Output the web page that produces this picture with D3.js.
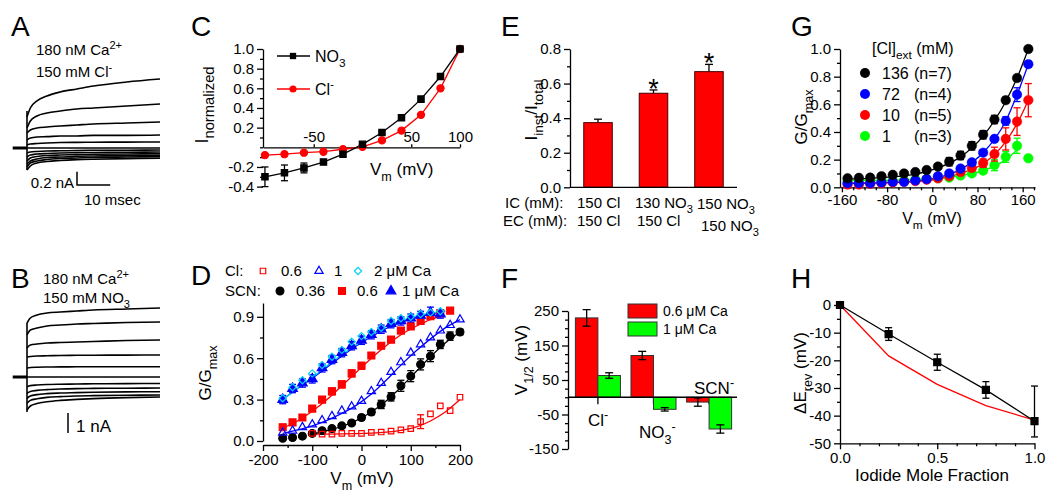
<!DOCTYPE html>
<html><head><meta charset="utf-8">
<script src="https://cdn.jsdelivr.net/npm/d3@7"></script>
<style>
html,body{margin:0;padding:0;background:#fff;}
svg text{font-family:"Liberation Sans",Arial,Helvetica,sans-serif;fill:#000;}
</style></head><body>
<svg id="c" width="1048" height="492"></svg>
<script>
// ================= DATA =================
// Panel A / B : current traces (nA) sampled at these times (ms)
const tA = [0,1,3,6,10,15,20,30,40];
const tracesA = [
 [0.465,0.60,0.705,0.78,0.84,0.885,0.93,0.99,1.035],
 [0.30,0.405,0.48,0.525,0.555,0.585,0.60,0.63,0.66],
 [0.225,0.27,0.30,0.315,0.33,0.345,0.36,0.375,0.39],
 [0.12,0.15,0.165,0.17,0.18,0.18,0.19,0.19,0.195],
 [0.045,0.06,0.067,0.075,0.082,0.085,0.087,0.088,0.09],
 [0,0,0,0,0,0,0,0,0],
 [-0.075,-0.06,-0.052,-0.045,-0.042,-0.037,-0.034,-0.033,-0.03],
 [-0.135,-0.105,-0.09,-0.082,-0.075,-0.07,-0.067,-0.064,-0.06],
 [-0.195,-0.15,-0.127,-0.112,-0.105,-0.1,-0.094,-0.09,-0.087],
 [-0.24,-0.195,-0.165,-0.142,-0.135,-0.124,-0.12,-0.114,-0.11],
 [-0.285,-0.225,-0.195,-0.172,-0.157,-0.15,-0.142,-0.135,-0.13],
 [-0.33,-0.27,-0.225,-0.202,-0.187,-0.175,-0.168,-0.16,-0.154]
];
const tracesB = [
 [2.7,2.95,3.1,3.2,3.25,3.3,3.35,3.4,3.45],
 [2.1,2.35,2.45,2.55,2.6,2.65,2.675,2.725,2.75],
 [1.45,1.6,1.65,1.7,1.725,1.75,1.775,1.825,1.85],
 [1.0,1.025,1.05,1.06,1.075,1.085,1.09,1.095,1.1],
 [0.45,0.475,0.49,0.5,0.505,0.51,0.515,0.515,0.515],
 [0,0,0,0,0,0,0,0,0],
 [-0.485,-0.43,-0.40,-0.375,-0.36,-0.35,-0.34,-0.33,-0.325],
 [-0.815,-0.72,-0.67,-0.63,-0.60,-0.58,-0.57,-0.56,-0.55],
 [-1.065,-0.95,-0.88,-0.83,-0.80,-0.78,-0.76,-0.745,-0.735],
 [-1.315,-1.17,-1.09,-1.02,-0.98,-0.95,-0.93,-0.91,-0.90],
 [-1.65,-1.45,-1.33,-1.24,-1.17,-1.12,-1.08,-1.03,-1.00]
];

// Panel C
const cV = [-100,-80,-60,-40,-20,0,20,40,60,80,100];
const cNO3 = [-0.30,-0.26,-0.21,-0.15,-0.07,0.03,0.15,0.30,0.49,0.72,1.0];
const cNO3Err = [0.10,0.08,0.05,0.02,0,0,0,0,0,0,0];
const cCl = [-0.08,-0.07,-0.055,-0.045,-0.02,0.005,0.07,0.17,0.33,0.60,1.0];
const cYTicks = [-0.4,-0.2,0.2,0.4,0.6,0.8,1.0];
const cXTicks = [-50,50,100];

// Panel D
const dV = [-160,-140,-120,-100,-80,-60,-40,-20,0,20,40,60,80,100,120,140,160,180,200];
const dCl06 = [null,null,null,0.055,0.05,0.05,0.055,0.055,0.055,0.063,0.065,0.072,0.08,0.09,0.14,0.196,0.254,0.22,0.317];
const dCl06Err = [0,0,0,0,0,0,0,0,0,0,0,0,0,0,0.05,0,0,0,0];
const dCl1 = [0.06,0.075,0.10,0.12,0.15,0.18,0.22,0.25,0.29,0.36,0.42,0.50,0.57,0.64,0.70,0.75,0.80,0.84,0.88];
const dCl2 = [0.31,0.39,0.44,0.49,0.55,0.61,0.66,0.72,0.76,0.79,0.82,0.87,0.89,0.90,0.92,0.93,0.94,null,null];
const dSCN036 = [0.02,0.025,0.035,0.055,0.075,0.09,0.11,0.13,0.17,0.21,0.265,0.32,0.40,0.47,0.555,0.615,0.70,0.76,0.79];
const dSCN036Err = [0.01,0.01,0.01,0.01,0.01,0.01,0.015,0.015,0.02,0.02,0.03,0.03,0.04,0.04,0.04,0.04,0.03,0.03,0.02];
const dSCN06 = [0.10,0.135,0.17,0.235,0.30,0.36,0.41,0.49,0.545,0.62,0.69,0.735,0.80,0.83,0.87,0.905,0.925,0.945,null];
const dSCN06Err = [0.02,0.02,0.02,0.02,0.02,0.025,0.025,0.025,0.025,0.02,0.02,0.02,0.02,0.02,0.02,0.02,0.015,0.015,0];
const dSCN1 = [0.30,0.38,0.42,0.45,0.53,0.59,0.64,0.69,0.73,0.77,0.81,0.85,0.87,0.89,0.91,0.93,0.92,null,null];
const dSCN1Err = [0.03,0.03,0.03,0.03,0.03,0.03,0.03,0.03,0.03,0.03,0.03,0.03,0.03,0.03,0.03,0.04,0.03,0,0];
const dFitV = [-160,-130,-100,-70,-40,-10,20,50,80,110,140,170,200];
const dFitCl06 = [null,null,0.05,0.05,0.051,0.053,0.057,0.064,0.077,0.10,0.145,0.21,0.30];
const dFitCl1 = [0.055,0.08,0.11,0.15,0.20,0.26,0.34,0.44,0.55,0.65,0.74,0.82,0.88];
const dFitCl2 = [0.30,0.38,0.46,0.545,0.625,0.70,0.77,0.83,0.87,0.905,0.925,0.945,null];
const dFitSCN036 = [null,null,0.05,0.075,0.105,0.15,0.21,0.29,0.39,0.50,0.61,0.71,0.79];
const dFitSCN06 = [0.095,0.145,0.215,0.30,0.40,0.50,0.60,0.69,0.77,0.83,0.88,0.91,null];
const dFitSCN1 = [0.30,0.38,0.455,0.535,0.615,0.69,0.755,0.815,0.86,0.895,0.92,0.94,null];

// Panel E
const eCats = ["a","b","c"];
const eIC = [["150 Cl"],["130 NO","3"],["150  NO","3"]];
const eEC = [["150  Cl"],["150 Cl"],["150 NO","3"]];
const eVals = [0.374,0.544,0.669];
const eErr = [0.02,0.019,0.042];
const eSig = [false,true,true];

// Panel F
const fGroups = ["Cl","NO3","SCN"];
const f06 = [230,121,-14];
const f06Err = [24,12,12];
const f1 = [63,-35,-92];
const f1Err = [8,5,12];

// Panel G
const gV = [-150,-130,-110,-90,-70,-50,-30,-10,10,30,50,70,90,110,130,150,170];
const g136 = [0.065,0.068,0.07,0.08,0.09,0.10,0.11,0.125,0.15,0.185,0.23,0.30,0.38,0.49,0.63,0.79,1.0];
const g136Err = [0.01,0.01,0.01,0.01,0.01,0.01,0.015,0.02,0.02,0.03,0.03,0.03,0.03,0.03,0.02,0.02,0];
const g72 = [0.03,0.03,0.03,0.035,0.04,0.04,0.05,0.06,0.08,0.10,0.135,0.18,0.25,0.35,0.48,0.67,0.89];
const g72Err = [0,0,0,0,0,0,0,0,0,0.01,0.01,0.01,0.01,0.02,0.03,0.05,0.02];
const g10 = [0.02,0.02,0.025,0.03,0.035,0.04,0.045,0.055,0.065,0.08,0.11,0.14,0.175,0.24,0.35,0.475,0.63];
const g10Err = [0,0,0,0,0,0,0,0,0,0.01,0.02,0.02,0.03,0.05,0.08,0.10,0.12];
const g1 = [0.045,0.045,0.045,0.045,0.048,0.05,0.055,0.06,0.065,0.07,0.085,0.10,0.12,0.16,0.22,0.30,0.21];
const g1Err = [0,0,0,0,0,0,0,0,0,0,0.01,0.01,0.02,0.04,0.04,0.055,0];
const gFitV = [-150,-110,-70,-30,10,50,90,130,150,170];
const gFit136 = [0.06,0.065,0.075,0.095,0.14,0.22,0.37,0.62,0.79,1.0];
const gFit72 = [0.028,0.03,0.035,0.045,0.07,0.13,0.25,0.48,0.67,0.89];
const gFit10 = [0.03,0.032,0.035,0.042,0.06,0.10,0.17,0.33,0.46,0.63];
const gFit1 = [0.05,0.05,0.052,0.056,0.065,0.085,0.12,0.20,0.27,null];
const gLegend = [["136","(n=7)"],["72","(n=4)"],["10","(n=5)"],["1","(n=3)"]];

// Panel H
const hX = [0,0.25,0.5,0.75,1.0];
const hY = [0,-10.5,-20.7,-30.7,-42];
const hErrUp = [0,2.3,2.9,3.0,12.7];
const hErrDn = [0,2.3,2.9,3.0,5.7];
const hTheory = [0,-18.4,-28.7,-36.4,-41.6];

// ================= HELPERS =================
const svg = d3.select("#c");
const FS = 15;
const RED="#ff0000", BLUE="#0000ff", CYAN="#00d4f0", GREEN="#00ff00", BLACK="#000";

function rich(g, x, y, parts, o={}) {
  const fs = o.fs || FS;
  const sr = o.subRatio || 0.74;
  const t = g.append("text").attr("x",x).attr("y",y).attr("font-size",fs)
    .attr("text-anchor",o.anchor||"start");
  if (o.rotate) t.attr("transform",`rotate(-90,${x},${y})`);
  let cur = 0;
  parts.forEach(p=>{
    const s = typeof p === "string" ? {t:p} : p;
    const off = s.sub ? fs*0.33 : s.sup ? -fs*0.42 : 0;
    const ts = t.append("tspan").attr("dy",off-cur).text(s.t);
    if (s.sub||s.sup) ts.attr("font-size",fs*sr);
    cur = off;
  });
  return t;
}
function styleAxis(a){
  a.attr("font-family",null).attr("font-size",null);
  a.selectAll("path,line").attr("stroke","#000").attr("stroke-width",1.3);
  a.selectAll("text").attr("font-size",FS);
}
function leftAxis(g,scale,x,major,minor,fmt){
  const a=g.append("g").attr("transform",`translate(${x},0)`);
  a.call(d3.axisLeft(scale).tickValues(major).tickSize(6).tickSizeOuter(0).tickFormat(fmt).tickPadding(3));
  if(minor){const m=a.append("g").call(d3.axisLeft(scale).tickValues(minor).tickSize(3).tickSizeOuter(0).tickFormat(""));m.select(".domain").remove();}
  styleAxis(a);return a;
}
function bottomAxis(g,scale,y,major,minor,fmt,tsz=6,pad=3){
  const a=g.append("g").attr("transform",`translate(0,${y})`);
  a.call(d3.axisBottom(scale).tickValues(major).tickSize(tsz).tickSizeOuter(0).tickFormat(fmt).tickPadding(pad));
  if(minor){const m=a.append("g").call(d3.axisBottom(scale).tickValues(minor).tickSize(3).tickSizeOuter(0).tickFormat(""));m.select(".domain").remove();}
  styleAxis(a);return a;
}
const f1d = d=>d.toFixed(1);
const fint = d=>String(d);
function errBars(g,xs,ys,errs,xS,yS,color,cap,up=true,dn=true,errsDn){
  xs.forEach((x,i)=>{
    const v=ys[i], e=errs[i], ed = errsDn?errsDn[i]:e;
    if(v==null||(!e&&!ed)) return;
    const X=xS(x), y1=yS(v+(up?e:0)), y2=yS(v-(dn?ed:0));
    g.append("line").attr("x1",X).attr("x2",X).attr("y1",y1).attr("y2",y2).attr("stroke",color).attr("stroke-width",1.3);
    if(up) g.append("line").attr("x1",X-cap).attr("x2",X+cap).attr("y1",y1).attr("y2",y1).attr("stroke",color).attr("stroke-width",1.3);
    if(dn) g.append("line").attr("x1",X-cap).attr("x2",X+cap).attr("y1",y2).attr("y2",y2).attr("stroke",color).attr("stroke-width",1.3);
  });
}
function markers(g,xs,ys,xS,yS,type,size,fill,stroke,rot=0,sw=1.2){
  const sym=d3.symbol().type(type).size(size);
  xs.forEach((x,i)=>{ if(ys[i]==null) return;
    g.append("path").attr("d",sym()).attr("transform",`translate(${xS(x)},${yS(ys[i])}) rotate(${rot})`)
     .attr("fill",fill).attr("stroke",stroke).attr("stroke-width",sw);});
}
function fitLine(g,xs,ys,xS,yS,color,curve=d3.curveMonotoneX){
  const ln=d3.line().defined(d=>d!=null).x((d,i)=>xS(xs[i])).y(d=>yS(d)).curve(curve);
  g.append("path").attr("d",ln(ys)).attr("fill","none").attr("stroke",color).attr("stroke-width",1.3);
}
function letter(t,x,y){ svg.append("text").attr("x",x).attr("y",y).attr("font-size",28).text(t); }

// ================= PANEL A =================
(function(){
  const g=svg.append("g");
  const x=d3.scaleLinear().domain([0,40]).range([27,160]);
  const y=d3.scaleLinear().domain([0,1]).range([148,81.3]);
  const ln=d3.line().x((d,i)=>x(tA[i])).y(d=>y(d)).curve(d3.curveMonotoneX);
  tracesA.forEach(tr=>g.append("path").attr("d",ln(tr)).attr("fill","none").attr("stroke","#000").attr("stroke-width",1.6));
  const starts=tracesA.map(t=>t[0]);
  g.append("line").attr("x1",x(0)).attr("x2",x(0)).attr("y1",y(d3.max(starts))-6).attr("y2",y(d3.min(starts))).attr("stroke","#000").attr("stroke-width",1.6);
  g.append("line").attr("x1",x(-4.3)).attr("x2",x(0)).attr("y1",y(0)).attr("y2",y(0)).attr("stroke","#000").attr("stroke-width",3);
  const bx=77, by=185;
  g.append("path").attr("d",`M${bx},${by-(y(0)-y(0.2))}V${by}H${bx+(x(10)-x(0))}`).attr("fill","none").attr("stroke","#000").attr("stroke-width",1.5);
  rich(g,74,188,["0.2 nA"]).attr("text-anchor","end");
  rich(g,84,205,["10 msec"]);
  rich(g,36,55,["180 nM Ca",{t:"2+",sup:true}]);
  rich(g,36,77,["150 mM Cl",{t:"-",sup:true}]);
  letter("A",11,36);
})();

// ================= PANEL B =================
(function(){
  const g=svg.append("g");
  const x=d3.scaleLinear().domain([0,40]).range([27,160]);
  const y=d3.scaleLinear().domain([0,1]).range([377,357]);
  const ln=d3.line().x((d,i)=>x(tA[i])).y(d=>y(d)).curve(d3.curveMonotoneX);
  tracesB.forEach(tr=>g.append("path").attr("d",ln(tr)).attr("fill","none").attr("stroke","#000").attr("stroke-width",1.6));
  const starts=tracesB.map(t=>t[0]);
  g.append("line").attr("x1",x(0)).attr("x2",x(0)).attr("y1",y(d3.max(starts))).attr("y2",y(d3.min(starts))+2).attr("stroke","#000").attr("stroke-width",1.6);
  g.append("line").attr("x1",x(-4.3)).attr("x2",x(0)).attr("y1",y(0)).attr("y2",y(0)).attr("stroke","#000").attr("stroke-width",3);
  const bx=68, by=433;
  g.append("line").attr("x1",bx).attr("x2",bx).attr("y1",by-(y(0)-y(1))).attr("y2",by).attr("stroke","#000").attr("stroke-width",1.5);
  rich(g,76,432,["1 nA"],{fs:17});
  rich(g,43,284,["180 nM Ca",{t:"2+",sup:true}]);
  rich(g,43,303,["150 mM NO",{t:"3",sub:true}]);
  letter("B",11,288);
})();

// ================= PANEL C =================
(function(){
  const g=svg.append("g");
  const x=d3.scaleLinear().domain([-102,100]).range([263,460]);
  const y=d3.scaleLinear().domain([0,1]).range([147.3,49]);
  leftAxis(g,y,263,cYTicks,[-0.3,-0.1,0,0.1,0.3,0.5,0.7,0.9],f1d);
  const a=g.append("g").attr("transform",`translate(0,${y(0)})`);
  a.call(d3.axisTop(x).tickValues(cXTicks).tickSize(3).tickSizeOuter(0).tickFormat(fint).tickPadding(2));
  styleAxis(a);
  fitLine(g,cV,cCl,x,y,RED,d3.curveLinear);
  fitLine(g,cV,cNO3,x,y,BLACK,d3.curveLinear);
  errBars(g,cV,cNO3,cNO3Err,x,y,BLACK,3.5);
  markers(g,cV,cCl,x,y,d3.symbolCircle,40,RED,RED);
  markers(g,cV,cNO3,x,y,d3.symbolSquare,40,BLACK,BLACK);
  [[56,BLACK,d3.symbolSquare,["NO",{t:"3",sub:true}]],[89,RED,d3.symbolCircle,["Cl",{t:"-",sup:true}]]].forEach(L=>{
    g.append("line").attr("x1",277).attr("x2",310).attr("y1",L[0]).attr("y2",L[0]).attr("stroke",L[1]).attr("stroke-width",1.3);
    g.append("path").attr("d",d3.symbol().type(L[2]).size(40)()).attr("transform",`translate(293,${L[0]})`).attr("fill",L[1]);
    rich(g,315,L[0]+6,L[3],{fs:16});
  });
  rich(g,370,175,["V",{t:"m",sub:true}," (mV)"],{fs:17});
  rich(g,208,105,["I",{t:"normalized",sub:true}],{fs:18,subRatio:0.82,rotate:true,anchor:"middle"});
  letter("C",191,36);
})();

// ================= PANEL D =================
(function(){
  const g=svg.append("g");
  const x=d3.scaleLinear().domain([-200,200]).range([263,460]);
  const y=d3.scaleLinear().domain([0,1]).range([441,303]);
  leftAxis(g,y,263,[0,0.3,0.6,0.9],[0.15,0.45,0.75],f1d);
  bottomAxis(g,x,445,[-200,-100,0,100,200],[-150,-50,50,150],fint);
  fitLine(g,dFitV,dFitCl06,x,y,RED);
  fitLine(g,dFitV,dFitSCN036,x,y,BLACK);
  fitLine(g,dFitV,dFitSCN06,x,y,RED);
  fitLine(g,dFitV,dFitCl1,x,y,BLUE);
  fitLine(g,dFitV,dFitSCN1,x,y,BLUE);
  fitLine(g,dFitV,dFitCl2,x,y,CYAN);
  errBars(g,dV,dSCN036,dSCN036Err,x,y,BLACK,3.5);
  errBars(g,dV,dSCN06,dSCN06Err,x,y,RED,3.5);
  errBars(g,dV,dSCN1,dSCN1Err,x,y,BLUE,3.5);
  errBars(g,dV,dCl06,dCl06Err,x,y,RED,3.5);
  markers(g,dV,dSCN036,x,y,d3.symbolCircle,48,BLACK,BLACK);
  markers(g,dV,dSCN06,x,y,d3.symbolSquare,48,RED,RED);
  markers(g,dV,dCl06,x,y,d3.symbolSquare,30,"none",RED);
  markers(g,dV,dCl1,x,y,d3.symbolTriangle,30,"none",BLUE);
  markers(g,dV,dSCN1,x,y,d3.symbolTriangle,40,BLUE,BLUE);
  markers(g,dV,dCl2,x,y,d3.symbolSquare,26,"none",CYAN,45);
  rich(g,225,276,["Cl:"]);
  const sym=(t,s,cx,cy,fill,stroke,rot=0)=>g.append("path").attr("d",d3.symbol().type(t).size(s)()).attr("transform",`translate(${cx},${cy}) rotate(${rot})`).attr("fill",fill).attr("stroke",stroke).attr("stroke-width",1.2);
  sym(d3.symbolSquare,30,263,271,"none",RED); rich(g,281,276,["0.6"]);
  sym(d3.symbolTriangle,30,319,271,"none",BLUE); rich(g,334,276,["1"]);
  sym(d3.symbolSquare,26,358,271,"none",CYAN,45); rich(g,374,276,["2 μM Ca"]);
  rich(g,225,296,["SCN:"]);
  sym(d3.symbolCircle,48,280,291,BLACK,BLACK); rich(g,296,296,["0.36"]);
  sym(d3.symbolSquare,48,342,291,RED,RED); rich(g,357,296,["0.6"]);
  sym(d3.symbolTriangle,40,391,291,BLUE,BLUE); rich(g,402,296,["1 μM Ca"]);
  rich(g,362,484,["V",{t:"m",sub:true}," (mV)"],{fs:17,anchor:"middle"});
  rich(g,211,373,["G/G",{t:"max",sub:true}],{fs:17,rotate:true,anchor:"middle"});
  letter("D",191,285);
})();

// ================= PANEL E =================
(function(){
  const g=svg.append("g");
  const x=d3.scaleBand().domain(eCats).range([570,737]).paddingInner(0.486).paddingOuter(0.248);
  const y=d3.scaleLinear().domain([0,0.8]).range([187.3,49]);
  eCats.forEach((c,i)=>{
    const X=x(c)+x.bandwidth()/2, yt=y(eVals[i]+eErr[i]);
    g.append("line").attr("x1",X).attr("x2",X).attr("y1",y(eVals[i])).attr("y2",yt).attr("stroke","#000").attr("stroke-width",1.3);
    g.append("line").attr("x1",X-4).attr("x2",X+4).attr("y1",yt).attr("y2",yt).attr("stroke","#000").attr("stroke-width",1.3);
    g.append("rect").attr("x",x(c)).attr("y",y(eVals[i])).attr("width",x.bandwidth()).attr("height",y(0)-y(eVals[i])).attr("fill",RED).attr("stroke","#400").attr("stroke-width",1);
    if(eSig[i]) g.append("text").attr("x",X).attr("y",yt+8).attr("text-anchor","middle").attr("font-size",27).text("*");
  });
  leftAxis(g,y,570,[0,0.2,0.4,0.6,0.8],[0.1,0.3,0.5,0.7],f1d);
  g.append("line").attr("x1",570).attr("x2",737).attr("y1",y(0)).attr("y2",y(0)).attr("stroke","#000").attr("stroke-width",1.3);
  rich(g,505,208,["IC (mM):"]);
  rich(g,503,226,["EC (mM):"]);
  const icX=[577,635,697], ecX=[577,637,701], icY=[208,208,209], ecY=[226,226,231];
  eCats.forEach((c,i)=>{
    const p=eIC[i].length>1?[eIC[i][0],{t:eIC[i][1],sub:true}]:[eIC[i][0]];
    rich(g,icX[i],icY[i],p);
    const q=eEC[i].length>1?[eEC[i][0],{t:eEC[i][1],sub:true}]:[eEC[i][0]];
    rich(g,ecX[i],ecY[i],q);
  });
  rich(g,537,110,["I",{t:"inst",sub:true},"/I",{t:"total",sub:true}],{fs:17,subRatio:0.8,rotate:true,anchor:"middle"});
  letter("E",501,36);
})();

// ================= PANEL F =================
(function(){
  const g=svg.append("g");
  const x=d3.scaleBand().domain(fGroups).range([570,737]).paddingInner(0.19).paddingOuter(0.097);
  const xi=d3.scaleBand().domain(["a","b"]).range([0,x.bandwidth()]);
  const y=d3.scaleLinear().domain([-150,250]).range([449,311]);
  fGroups.forEach(gr=>{const X=x(gr)+x.bandwidth()/2; g.append("line").attr("x1",X).attr("x2",X).attr("y1",y(0)).attr("y2",y(0)+7).attr("stroke","#000").attr("stroke-width",1.3);});
  const bar=(vals,errs,key,color)=>fGroups.forEach((gr,i)=>{
    const bx=x(gr)+xi(key), w=xi.bandwidth(), v=vals[i];
    g.append("rect").attr("x",bx).attr("y",Math.min(y(v),y(0))).attr("width",w).attr("height",Math.abs(y(v)-y(0))).attr("fill",color).attr("stroke","#333").attr("stroke-width",1);
    const X=bx+w/2, y1=y(v+errs[i]), y2=y(v-errs[i]);
    g.append("line").attr("x1",X).attr("x2",X).attr("y1",y1).attr("y2",y2).attr("stroke","#000").attr("stroke-width",1.3);
    [y1,y2].forEach(yy=>g.append("line").attr("x1",X-4).attr("x2",X+4).attr("y1",yy).attr("y2",yy).attr("stroke","#000").attr("stroke-width",1.3));
  });
  bar(f06,f06Err,"a",RED);
  bar(f1,f1Err,"b",GREEN);
  leftAxis(g,y,568,[-150,-50,50,150,250],[-125,-100,-75,-25,0,25,75,100,125,175,200,225],fint);
  g.append("line").attr("x1",568).attr("x2",737).attr("y1",y(0)).attr("y2",y(0)).attr("stroke","#000").attr("stroke-width",1.3);
  rich(g,588,426,["Cl",{t:"-",sup:true}],{fs:17});
  rich(g,639,438,["NO",{t:"3",sub:true},{t:"-",sup:true}],{fs:17});
  rich(g,694,394,["SCN",{t:"-",sup:true}],{fs:17});
  [[RED,304,"0.6 μM Ca"],[GREEN,322,"1 μM Ca"]].forEach(L=>{
    g.append("rect").attr("x",628).attr("y",L[1]).attr("width",29).attr("height",14).attr("fill",L[0]).attr("stroke","#333").attr("stroke-width",1);
    rich(g,663,L[1]+12,[L[2]],{fs:14});
  });
  rich(g,527,360,["V",{t:"1/2",sub:true}," (mV)"],{fs:17,rotate:true,anchor:"middle"});
  letter("F",501,288);
})();

// ================= PANEL G =================
(function(){
  const g=svg.append("g");
  const x=d3.scaleLinear().domain([-163.4,181.8]).range([840,1035]);
  const y=d3.scaleLinear().domain([0,1]).range([187.3,49]);
  leftAxis(g,y,840,[0,0.2,0.4,0.6,0.8,1.0],[0.1,0.3,0.5,0.7,0.9],f1d);
  bottomAxis(g,x,187.3,[-160,-80,0,80,160],[-140,-120,-100,-60,-40,-20,20,40,60,100,120,140,180],fint,5,2);
  const series=[[g1,g1Err,gFit1,GREEN],[g10,g10Err,gFit10,RED],[g72,g72Err,gFit72,BLUE],[g136,g136Err,gFit136,BLACK]];
  series.forEach(s=>fitLine(g,gFitV,s[2],x,y,s[3]));
  series.forEach(s=>{errBars(g,gV,s[0],s[1],x,y,s[3],3.5); markers(g,gV,s[0],x,y,d3.symbolCircle,72,s[3],s[3],0,0.5);});
  rich(g,872,54,["[Cl]",{t:"ext",sub:true}," (mM)"],{fs:16});
  const cols=[BLACK,BLUE,RED,GREEN];
  gLegend.forEach((L,i)=>{
    const cy=73+i*21;
    g.append("circle").attr("cx",865).attr("cy",cy).attr("r",5).attr("fill",cols[i]);
    rich(g,882,cy+6,[L[0]],{fs:16});
    rich(g,914,cy+6,[L[1]],{fs:16});
  });
  rich(g,932,224,["V",{t:"m",sub:true}," (mV)"],{fs:16,anchor:"middle"});
  rich(g,807,117,["G/G",{t:"max",sub:true}],{fs:17,rotate:true,anchor:"middle"});
  letter("G",791,36);
})();

// ================= PANEL H =================
(function(){
  const g=svg.append("g");
  const x=d3.scaleLinear().domain([0,1]).range([840,1034.5]);
  const y=d3.scaleLinear().domain([-50,0]).range([443.3,305]);
  leftAxis(g,y,840,[0,-10,-20,-30,-40,-50],[-5,-15,-25,-35,-45],fint);
  bottomAxis(g,x,443.3,[0,0.5,1],[0.1,0.2,0.3,0.4,0.6,0.7,0.8,0.9],f1d);
  fitLine(g,hX,hTheory,x,y,RED,d3.curveLinear);
  fitLine(g,hX,hY,x,y,BLACK,d3.curveLinear);
  errBars(g,hX,hY,hErrUp,x,y,BLACK,3.5,true,true,hErrDn);
  markers(g,hX,hY,x,y,d3.symbolSquare,49,BLACK,BLACK);
  rich(g,932,481,["Iodide Mole Fraction"],{fs:17,anchor:"middle"});
  rich(g,806,373,["ΔE",{t:"rev",sub:true}," (mV)"],{fs:17,rotate:true,anchor:"middle"});
  letter("H",791,288);
})();
</script>
</body></html>
